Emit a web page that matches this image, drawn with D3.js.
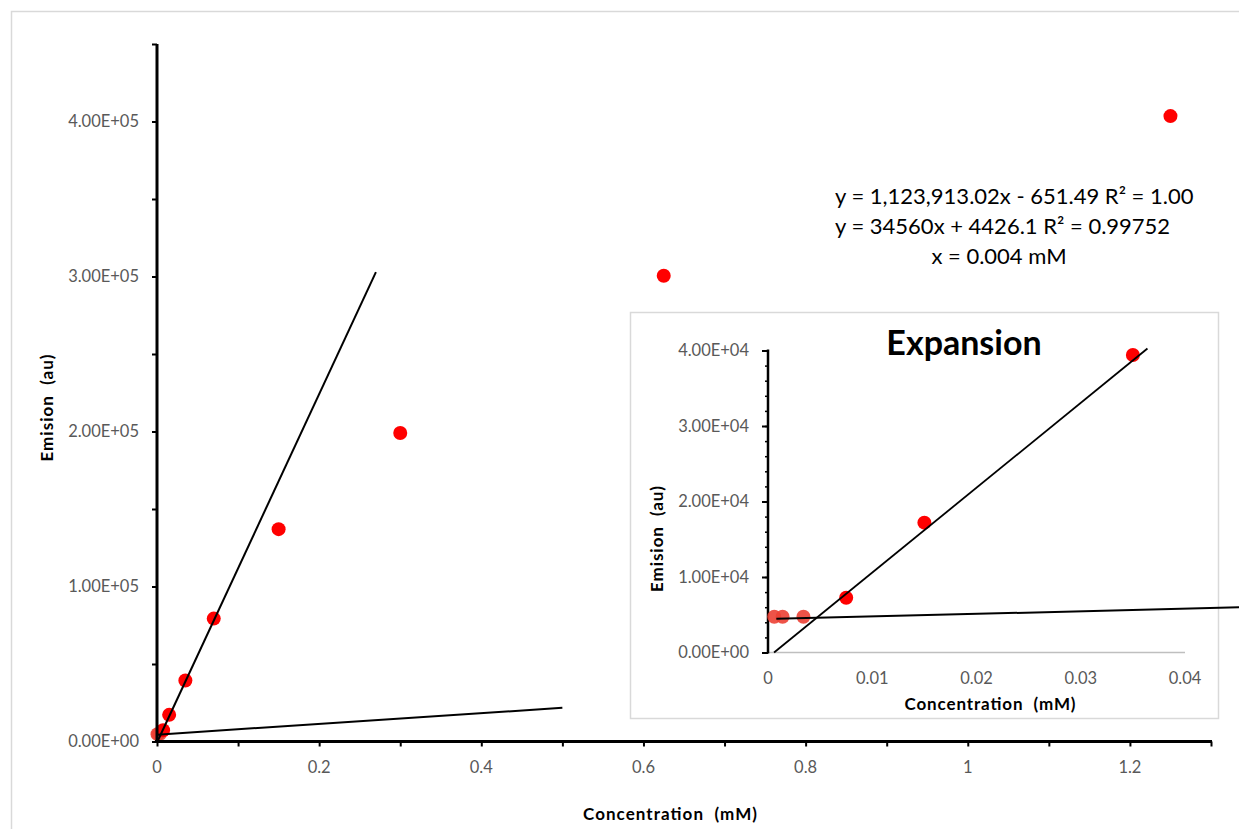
<!DOCTYPE html>
<html>
<head>
<meta charset="utf-8">
<script src="https://cdn.jsdelivr.net/npm/d3@7"></script>
<style>
  html, body { margin: 0; padding: 0; background: #fff; }
  svg { display: block; }
  text { font-family: Lato, "Open Sans", sans-serif; }
</style>
</head>
<body>
<svg id="chart" width="1239" height="829"></svg>
<script>
// ---------- DATA ----------
const concentration = [0.0006, 0.0014, 0.0034, 0.0075, 0.015, 0.035, 0.07, 0.15, 0.3, 0.625, 1.25];
const emission      = [4740, 4740, 4740, 7260, 17200, 39400, 79300, 137000, 199000, 300500, 403500];
const lowGroup      = [true, true, true, false, false, false, false, false, false, false, false];

// trendlines: slope, intercept and drawn x-range
const fitSteep = { slope: 1123913.02, intercept: -651.49 };
const fitFlat  = { slope: 34560, intercept: 4426.1 };
const steepRangeMain  = [0, 0.27];
const flatRangeMain   = [0, 0.5];
const steepRangeInset = [0.00058, 0.0364];
const flatRangeInset  = [0.0008, 0.05];

const mainXTicks = [0, 0.2, 0.4, 0.6, 0.8, 1, 1.2];
const mainXTickLabels = ["0", "0.2", "0.4", "0.6", "0.8", "1", "1.2"];
const mainXMinor = [0, 0.1, 0.2, 0.3, 0.4, 0.5, 0.6, 0.7, 0.8, 0.9, 1, 1.1, 1.2, 1.3];
const mainYTicks = [0, 100000, 200000, 300000, 400000];
const mainYTickLabels = ["0.00E+00", "1.00E+05", "2.00E+05", "3.00E+05", "4.00E+05"];
const mainYMinor = [0, 50000, 100000, 150000, 200000, 250000, 300000, 350000, 400000, 450000];

const insetXTicks = [0, 0.01, 0.02, 0.03, 0.04];
const insetXTickLabels = ["0", "0.01", "0.02", "0.03", "0.04"];
const insetYTicks = [0, 10000, 20000, 30000, 40000];
const insetYTickLabels = ["0.00E+00", "1.00E+04", "2.00E+04", "3.00E+04", "4.00E+04"];
const insetYMinor = d3.range(0, 40001, 2000);

const equationLines = ["y = 1,123,913.02x - 651.49 R² = 1.00", "y = 34560x + 4426.1 R² = 0.99752"];
const resultLine = "x = 0.004 mM";
const axisTitleX = "Concentration  (mM)";
const axisTitleY = "Emision  (au)";
const insetTitle = "Expansion";

// ---------- LAYOUT ----------
const svg = d3.select("#chart");
const tickGrey = "#595959";
const red = "#ff0000";
const redLow = "#ec4034";
const tickFont = 16.5;

// outer chart border
svg.append("rect").attr("x", 11.5).attr("y", 11.5).attr("width", 1300).attr("height", 900)
  .attr("fill", "#fff").attr("stroke", "#d9d9d9").attr("stroke-width", 1.5);

const x = d3.scaleLinear().domain([0, 1.3]).range([157, 1211]);
const y = d3.scaleLinear().domain([0, 450000]).range([741.5, 44]);

const pts = concentration.map((c, i) => ({ c, e: emission[i], low: lowGroup[i] }));

// main points
svg.append("g").selectAll("circle").data(pts).join("circle")
  .attr("cx", d => x(d.c)).attr("cy", d => y(d.e)).attr("r", 7)
  .attr("fill", d => d.low ? redLow : red).attr("fill-opacity", d => d.low ? 0.85 : 1);

// trendline helper
function fitLine(g, fit, range, sx, sy, w) {
  g.append("line")
    .attr("x1", sx(range[0])).attr("y1", sy(fit.slope * range[0] + fit.intercept))
    .attr("x2", sx(range[1])).attr("y2", sy(fit.slope * range[1] + fit.intercept))
    .attr("stroke", "#000").attr("stroke-width", w);
}
const gMainLines = svg.append("g");
fitLine(gMainLines, fitSteep, steepRangeMain, x, y, 2);
fitLine(gMainLines, fitFlat, flatRangeMain, x, y, 2);

// main x axis
const gx = svg.append("g").attr("transform", `translate(0,${y(0)})`);
gx.call(d3.axisBottom(x).tickValues(mainXMinor).tickSize(5).tickFormat(""));
gx.select(".domain").remove();
gx.selectAll(".tick line").attr("stroke", "#000").attr("stroke-width", 2);
gx.append("line").attr("x1", x(0) - 2).attr("x2", x(1.3) + 1).attr("y1", 0).attr("y2", 0)
  .attr("stroke", "#000").attr("stroke-width", 3);
gx.selectAll(".lbl").data(mainXTicks).join("text").attr("class", "lbl")
  .attr("x", d => x(d)).attr("y", 31).attr("text-anchor", "middle")
  .attr("fill", tickGrey).attr("font-size", tickFont)
  .text((d, i) => mainXTickLabels[i]);

// main y axis
const gy = svg.append("g").attr("transform", `translate(${x(0)},0)`);
gy.call(d3.axisLeft(y).tickValues(mainYMinor).tickSize(5).tickFormat(""));
gy.select(".domain").remove();
gy.selectAll(".tick line").attr("stroke", "#000").attr("stroke-width", 2);
gy.append("line").attr("x1", 0).attr("x2", 0).attr("y1", y(0) + 1.5).attr("y2", y(450000))
  .attr("stroke", "#000").attr("stroke-width", 3);
gy.selectAll(".lbl").data(mainYTicks).join("text").attr("class", "lbl")
  .attr("x", -18).attr("y", d => y(d)).attr("dy", "0.35em").attr("text-anchor", "end")
  .attr("fill", tickGrey).attr("font-size", tickFont)
  .text((d, i) => mainYTickLabels[i]);

// axis-title helper
function title(g, txt, tx, ty, rot, len) {
  g.append("text").attr("transform", `translate(${tx},${ty}) rotate(${rot})`)
    .attr("text-anchor", "middle").attr("font-weight", "bold").attr("font-size", 17)
    .attr("fill", "#000").attr("textLength", len).attr("lengthAdjust", "spacing")
    .style("white-space", "pre").text(txt);
}
title(svg, axisTitleX, 670, 820, 0, 174);
title(svg, axisTitleY, 53, 408, -90, 107);

// equations
svg.append("text").attr("x", 835).attr("y", 204).attr("font-size", 22).attr("fill", "#000").text(equationLines[0]);
svg.append("text").attr("x", 835).attr("y", 234).attr("font-size", 22).attr("fill", "#000").text(equationLines[1]);
svg.append("text").attr("x", 999).attr("y", 264).attr("text-anchor", "middle").attr("font-size", 22).attr("fill", "#000").text(resultLine);

// ---------- INSET ----------
const inset = svg.append("g");
inset.append("rect").attr("x", 630.5).attr("y", 312.5).attr("width", 588).attr("height", 406)
  .attr("fill", "#fff").attr("stroke", "#d9d9d9").attr("stroke-width", 1.5);

const xi = d3.scaleLinear().domain([0, 0.04]).range([768, 1185]);
const yi = d3.scaleLinear().domain([0, 40000]).range([652.5, 350.5]);

// inset x axis (light grey, no ticks)
inset.append("line").attr("x1", xi(0)).attr("x2", xi(0.04)).attr("y1", yi(0)).attr("y2", yi(0))
  .attr("stroke", "#bfbfbf").attr("stroke-width", 1.5);
inset.selectAll(".xl").data(insetXTicks).join("text").attr("class", "xl")
  .attr("x", d => xi(d)).attr("y", yi(0) + 31).attr("text-anchor", "middle")
  .attr("fill", tickGrey).attr("font-size", tickFont)
  .text((d, i) => insetXTickLabels[i]);

// inset y axis
const giy = inset.append("g").attr("transform", `translate(${xi(0)},0)`);
giy.call(d3.axisLeft(yi).tickValues(insetYMinor).tickSize(3).tickFormat(""));
giy.select(".domain").remove();
giy.selectAll(".tick line").attr("stroke", "#000").attr("stroke-width", 1.5);
const giyMaj = inset.append("g").attr("transform", `translate(${xi(0)},0)`);
giyMaj.call(d3.axisLeft(yi).tickValues(insetYTicks).tickSize(6).tickFormat(""));
giyMaj.select(".domain").remove();
giyMaj.selectAll(".tick line").attr("stroke", "#000").attr("stroke-width", 2);
inset.append("line").attr("x1", xi(0)).attr("x2", xi(0)).attr("y1", yi(0) + 1).attr("y2", yi(40000) - 1)
  .attr("stroke", "#000").attr("stroke-width", 2.5);
inset.selectAll(".yl").data(insetYTicks).join("text").attr("class", "yl")
  .attr("x", xi(0) - 19).attr("y", d => yi(d)).attr("dy", "0.35em").attr("text-anchor", "end")
  .attr("fill", tickGrey).attr("font-size", tickFont)
  .text((d, i) => insetYTickLabels[i]);

// inset points
inset.append("g").selectAll("circle").data(pts.filter(d => d.c <= 0.04)).join("circle")
  .attr("cx", d => xi(d.c)).attr("cy", d => yi(d.e)).attr("r", 7)
  .attr("fill", d => d.low ? redLow : red).attr("fill-opacity", d => d.low ? 0.9 : 1);

// inset trendlines
fitLine(inset, fitSteep, steepRangeInset, xi, yi, 1.8);
fitLine(inset, fitFlat, flatRangeInset, xi, yi, 2);

// inset titles
inset.append("text").attr("x", 964).attr("y", 355).attr("text-anchor", "middle")
  .attr("font-weight", "bold").attr("font-size", 34).attr("fill", "#000").text(insetTitle);
title(inset, axisTitleX, 990, 710, 0, 171);
title(inset, axisTitleY, 663, 539, -90, 106);
</script>
</body>
</html>
